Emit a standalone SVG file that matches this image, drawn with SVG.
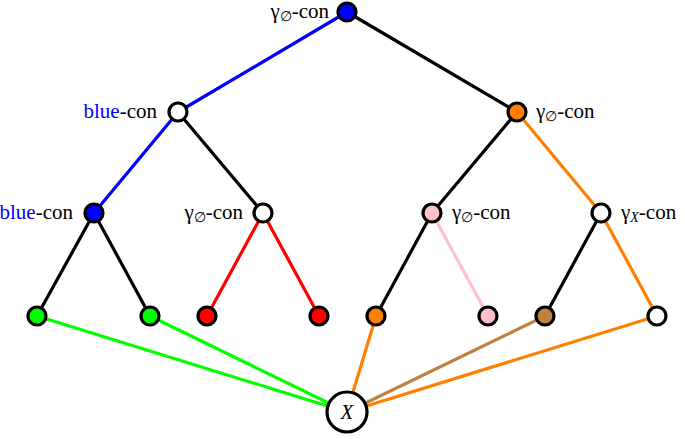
<svg xmlns="http://www.w3.org/2000/svg" width="685" height="439" viewBox="0 0 685 439">
<style>
.e{stroke-width:3.2;fill:none;stroke-linecap:round}
.n{stroke:#000;stroke-width:3.2}
.t{font-family:"Liberation Serif","DejaVu Serif",serif;font-size:21px;fill:#000}
.s{font-size:14px}
.b{fill:#0000ff}
</style>
<rect width="685" height="439" fill="#fff"/>
<g id="connectors">
<line class="e" x1="347" y1="12" x2="178" y2="112" stroke="#0000ff"/>
<line class="e" x1="347" y1="12" x2="517" y2="112" stroke="#000"/>
<line class="e" x1="178" y1="112" x2="94" y2="213" stroke="#0000ff"/>
<line class="e" x1="178" y1="112" x2="263" y2="213" stroke="#000"/>
<line class="e" x1="517" y1="112" x2="432" y2="213" stroke="#000"/>
<line class="e" x1="517" y1="112" x2="601" y2="213" stroke="#ff8000"/>
<line class="e" x1="94" y1="213" x2="37" y2="316" stroke="#000"/>
<line class="e" x1="94" y1="213" x2="150" y2="316" stroke="#000"/>
<line class="e" x1="263" y1="213" x2="207" y2="316" stroke="#ff0000"/>
<line class="e" x1="263" y1="213" x2="319" y2="316" stroke="#ff0000"/>
<line class="e" x1="432" y1="213" x2="376" y2="316" stroke="#000"/>
<line class="e" x1="432" y1="213" x2="488" y2="316" stroke="#ffc0cb"/>
<line class="e" x1="601" y1="213" x2="545" y2="316" stroke="#000"/>
<line class="e" x1="601" y1="213" x2="657" y2="316" stroke="#ff8000"/>
<line class="e" x1="37" y1="316" x2="347" y2="412" stroke="#00ff00"/>
<line class="e" x1="150" y1="316" x2="347" y2="412" stroke="#00ff00"/>
<line class="e" x1="376" y1="316" x2="347" y2="412" stroke="#ff8000"/>
<line class="e" x1="545" y1="316" x2="347" y2="412" stroke="#bf8040"/>
<line class="e" x1="657" y1="316" x2="347" y2="412" stroke="#ff8000"/>
</g>
<g id="root"><circle class="n" cx="347" cy="12" r="9" fill="#0000ff"/>
<text class="t" x="329" y="18" text-anchor="end">γ<tspan class="s" dy="3">∅</tspan><tspan dy="-3">-con</tspan></text></g>
<g id="n1"><circle class="n" cx="178" cy="112" r="9" fill="#fff"/>
<text class="t" x="157" y="118" text-anchor="end"><tspan class="b">blue</tspan>-con</text></g>
<g id="n2"><circle class="n" cx="517" cy="112" r="9" fill="#ff8000"/>
<text class="t" x="536" y="118">γ<tspan class="s" dy="3">∅</tspan><tspan dy="-3">-con</tspan></text></g>
<g id="n3"><circle class="n" cx="94" cy="213" r="9" fill="#0000ff"/>
<text class="t" x="73" y="219" text-anchor="end"><tspan class="b">blue</tspan>-con</text></g>
<g id="n4"><circle class="n" cx="263" cy="213" r="9" fill="#fff"/>
<text class="t" x="243" y="219" text-anchor="end">γ<tspan class="s" dy="3">∅</tspan><tspan dy="-3">-con</tspan></text></g>
<g id="n5"><circle class="n" cx="432" cy="213" r="9" fill="#ffc0cb"/>
<text class="t" x="452" y="219">γ<tspan class="s" dy="3">∅</tspan><tspan dy="-3">-con</tspan></text></g>
<g id="n6"><circle class="n" cx="601" cy="213" r="9" fill="#fff"/>
<text class="t" x="621" y="219">γ<tspan class="s" dy="3" font-style="italic">X</tspan><tspan dy="-3">-con</tspan></text></g>
<g id="l1"><circle class="n" cx="37" cy="316" r="9" fill="#00ff00"/></g>
<g id="l2"><circle class="n" cx="150" cy="316" r="9" fill="#00ff00"/></g>
<g id="l3"><circle class="n" cx="207" cy="316" r="9" fill="#ff0000"/></g>
<g id="l4"><circle class="n" cx="319" cy="316" r="9" fill="#ff0000"/></g>
<g id="l5"><circle class="n" cx="376" cy="316" r="9" fill="#ff8000"/></g>
<g id="l6"><circle class="n" cx="488" cy="316" r="9" fill="#ffc0cb"/></g>
<g id="l7"><circle class="n" cx="545" cy="316" r="9" fill="#bf8040"/></g>
<g id="l8"><circle class="n" cx="657" cy="316" r="9" fill="#fff"/></g>
<g id="x"><circle class="n" cx="347" cy="412" r="20" fill="#fff"/>
<text class="t" x="347" y="419" text-anchor="middle" font-style="italic" font-size="22">X</text></g>
</svg>
